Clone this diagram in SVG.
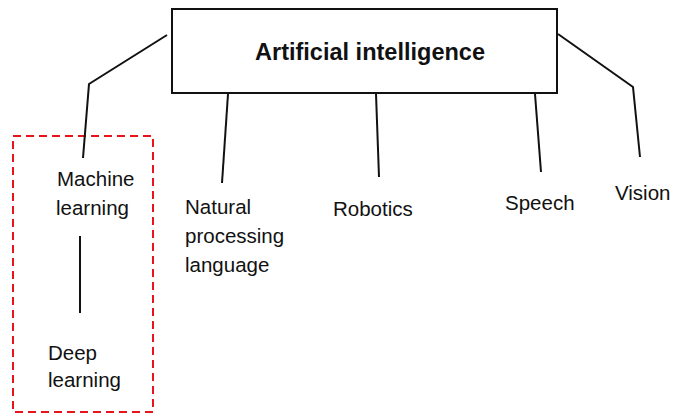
<svg xmlns="http://www.w3.org/2000/svg" width="673" height="414" viewBox="0 0 673 414">
<style>
.lbl{font-family:"Liberation Sans",Arial,sans-serif;font-size:20.5px;fill:#111}
.ttl{font-family:"Liberation Sans",Arial,sans-serif;font-size:23px;font-weight:bold;fill:#111}
.ln{fill:none;stroke:#111;stroke-width:2}
</style>
<rect width="673" height="414" fill="#fff"/>
<g id="group-box">
<rect x="13" y="136" width="140" height="276" fill="none" stroke="#e8141b" stroke-width="2" stroke-dasharray="8,5"/>
</g>
<g id="connectors">
<polyline class="ln" points="167,35 89,84 83,158"/>
<line class="ln" x1="228" y1="94" x2="222" y2="183"/>
<line class="ln" x1="376" y1="94" x2="379" y2="177"/>
<line class="ln" x1="535" y1="94" x2="541" y2="172"/>
<polyline class="ln" points="558,34 633,87 640,157"/>
<line class="ln" x1="80" y1="236" x2="80" y2="313"/>
</g>
<g id="ai">
<rect x="172" y="9" width="385" height="84" fill="#fff" stroke="#111" stroke-width="2"/>
<text class="ttl" x="255" y="60" textLength="230" lengthAdjust="spacingAndGlyphs">Artificial intelligence</text>
</g>
<g id="ml">
<text class="lbl" x="57" y="186">Machine</text>
<text class="lbl" x="56" y="215">learning</text>
</g>
<g id="dl">
<text class="lbl" x="48" y="360">Deep</text>
<text class="lbl" x="48" y="387">learning</text>
</g>
<g id="npl">
<text class="lbl" x="185" y="214">Natural</text>
<text class="lbl" x="185" y="243">processing</text>
<text class="lbl" x="185" y="272">language</text>
</g>
<g id="robotics">
<text class="lbl" x="333" y="216">Robotics</text>
</g>
<g id="speech">
<text class="lbl" x="505" y="210">Speech</text>
</g>
<g id="vision">
<text class="lbl" x="615" y="200">Vision</text>
</g>
</svg>
